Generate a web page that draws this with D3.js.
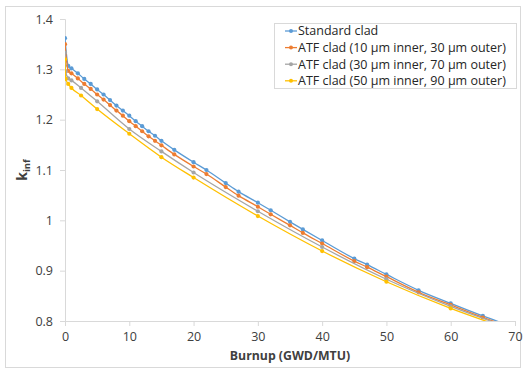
<!DOCTYPE html>
<html>
<head>
<meta charset="utf-8">
<script src="https://cdn.jsdelivr.net/npm/d3@7/dist/d3.min.js"></script>
<style>
  html, body { margin: 0; padding: 0; background: #fff; }
  svg { display: block; font-family: "Open Sans", "Noto Sans", sans-serif; }
</style>
</head>
<body>
<script>
// ---- data ----
const burnupFine = [0,0.5,1,2,3,4,5,6,7,8,9,10,11,12,13,14,15,17,20,22,25,27,30,32,35,37,40,45,47,50,55,60,65,70];
const standardClad = [1.362,1.307,1.302,1.292,1.281,1.271,1.260,1.250,1.239,1.228,1.218,1.208,1.197,1.187,1.177,1.168,1.158,1.140,1.1155,1.100,1.074,1.057,1.035,1.020,0.997,0.982,0.960,0.924,0.912,0.8925,0.861,0.835,0.810,0.787];
const atf10_30 = [1.350,1.297,1.292,1.282,1.271,1.261,1.250,1.240,1.229,1.218,1.208,1.197,1.187,1.177,1.167,1.158,1.149,1.131,1.107,1.092,1.066,1.049,1.027,1.012,0.990,0.975,0.954,0.919,0.907,0.888,0.857,0.832,0.807,0.785];
const burnupCoarse = [0,0.1,0.5,1,2.5,5,10,15,20,30,40,50,60,70];
const atf30_70 = [1.333,1.296,1.282,1.278,1.263,1.2365,1.1815,1.137,1.095,1.018,0.947,0.883,0.829,0.783];
const atf50_90 = [1.320,1.281,1.271,1.263,1.248,1.221,1.172,1.1255,1.085,1.0085,0.939,0.878,0.825,0.780];

const seriesNames = ["Standard clad","ATF clad (10 µm inner, 30 µm outer)","ATF clad (30 µm inner, 70 µm outer)","ATF clad (50 µm inner, 90 µm outer)"];
const seriesColors = ["#5B9BD5","#ED7D31","#A5A5A5","#FFC000"];
const xTicks = [0,10,20,30,40,50,60,70];
const yTicks = [0.8,0.9,1.0,1.1,1.2,1.3,1.4];

const series = [
  {name: seriesNames[0], color: seriesColors[0], xs: burnupFine, ys: standardClad},
  {name: seriesNames[1], color: seriesColors[1], xs: burnupFine, ys: atf10_30},
  {name: seriesNames[2], color: seriesColors[2], xs: burnupCoarse, ys: atf30_70},
  {name: seriesNames[3], color: seriesColors[3], xs: burnupCoarse, ys: atf50_90}
];

const W = 524, H = 369;
const svg = d3.select("body").append("svg").attr("width", W).attr("height", H);

// outer chart border
svg.append("rect").attr("x", 5.5).attr("y", 6.5).attr("width", 515).attr("height", 361)
  .attr("fill", "#fff").attr("stroke", "#d9d9d9").attr("stroke-width", 1);

const plot = {left: 65, right: 515, top: 19, bottom: 321};
const x = d3.scaleLinear().domain([0,70]).range([plot.left, plot.right]);
const y = d3.scaleLinear().domain([0.8,1.4]).range([plot.bottom, plot.top]);

// axes
const xAxis = svg.append("g").attr("transform", `translate(0,${plot.bottom})`)
  .call(d3.axisBottom(x).tickValues(xTicks).tickSize(5).tickPadding(6).tickFormat(d3.format("d")));
const yAxis = svg.append("g").attr("transform", `translate(${plot.left},0)`)
  .call(d3.axisLeft(y).tickValues(yTicks).tickSize(5).tickPadding(7).tickFormat(d => String(+d.toFixed(1))));
[xAxis, yAxis].forEach(g => {
  g.select(".domain").attr("stroke", "#d9d9d9");
  g.selectAll(".tick line").attr("stroke", "#d9d9d9");
  g.selectAll(".tick text").attr("fill", "#404040").attr("font-size", "12.5px")
    .attr("font-family", "\"Open Sans\", sans-serif");
});

// clip
svg.append("clipPath").attr("id", "clip").append("rect")
  .attr("x", plot.left).attr("y", plot.top - 5)
  .attr("width", plot.right - plot.left + 5).attr("height", plot.bottom - plot.top + 5);

const g = svg.append("g").attr("clip-path", "url(#clip)");
const line = d3.line().x(d => x(d[0])).y(d => y(d[1])).curve(d3.curveMonotoneX);

series.forEach(s => {
  const pts = s.xs.map((v, i) => [v, s.ys[i]]);
  g.append("path").attr("d", line(pts)).attr("fill", "none")
    .attr("stroke", s.color).attr("stroke-width", 1.3);
  g.selectAll(null).data(pts).enter().append("circle")
    .attr("cx", d => x(d[0])).attr("cy", d => y(d[1])).attr("r", 2.1)
    .attr("fill", s.color);
});

// axis titles
svg.append("text").attr("x", (plot.left + plot.right) / 2).attr("y", 360)
  .attr("text-anchor", "middle").attr("font-size", "12.3px").attr("font-weight", "bold")
  .attr("fill", "#404040").text("Burnup (GWD/MTU)");

const yt = svg.append("text").attr("transform", "translate(27,170) rotate(-90)")
  .attr("text-anchor", "middle").attr("font-size", "14px").attr("font-weight", "bold")
  .attr("fill", "#404040");
yt.append("tspan").text("k");
yt.append("tspan").attr("font-size", "9.5px").attr("dy", "3").text("inf");

// legend
const lg = svg.append("g");
lg.append("rect").attr("x", 274.5).attr("y", 23.5).attr("width", 242).attr("height", 65)
  .attr("fill", "#fff").attr("stroke", "#d9d9d9");
series.forEach((s, i) => {
  const cy = 31 + i * 16.6;
  lg.append("line").attr("x1", 285).attr("x2", 297).attr("y1", cy).attr("y2", cy)
    .attr("stroke", s.color).attr("stroke-width", 1.3);
  lg.append("circle").attr("cx", 291).attr("cy", cy).attr("r", 2).attr("fill", s.color);
  lg.append("text").attr("x", 298).attr("y", cy).attr("dy", "0.35em")
    .attr("font-size", "12.5px").attr("fill", "#262626").text(s.name);
});
</script>
</body>
</html>
